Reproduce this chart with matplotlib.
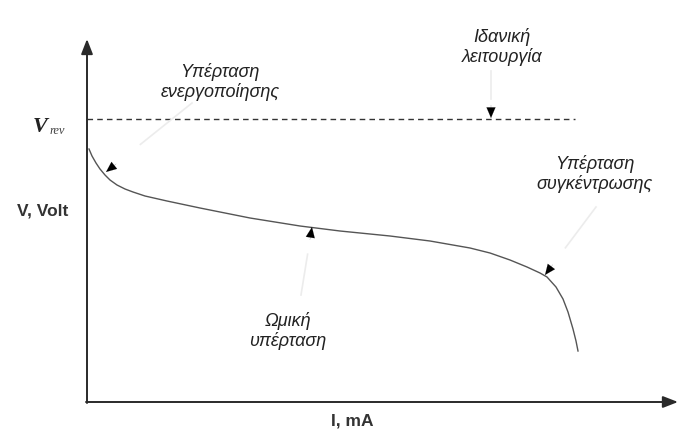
import matplotlib.pyplot as plt
import numpy as np

# polarization curve (x: current, y: pixel row, top = 0)
curve_i = [89, 92, 96, 100, 105, 110, 117, 125, 133, 145, 167, 200, 250, 300, 340, 390, 430, 470, 490, 510, 527, 540, 547, 556, 563, 568, 573, 576, 578]
curve_v = [150, 157, 164, 170, 176, 181, 186, 190, 193, 197, 202, 209, 219, 227, 232, 237, 242, 249, 254, 261, 268, 274, 278, 288, 300, 313, 330, 342, 352]
v_rev = 120
i_end_rev = 575

labels = ['Υπέρταση\nενεργοποίησης', 'Ιδανική\nλειτουργία', 'Υπέρταση\nσυγκέντρωσης', 'Ωμική\nυπέρταση']
label_pos = [(220, 82), (502, 47), (595, 174), (288, 331)]
arrow_tip = [(106, 173), (491, 119), (545, 276), (312, 228)]
leader_start = [(192, 104), (491, 72), (596, 208), (301, 296)]

fig = plt.figure(figsize=(6.78, 4.31), dpi=100)
ax = fig.add_axes([0, 0, 1, 1])
ax.set_xlim(0, 678)
ax.set_ylim(431, 0)
ax.axis('off')

x0, y0 = 87, 403
axis_col = '#2a2a2a'
# axes with arrow heads
ax.annotate('', xy=(x0, 40), xytext=(x0, y0 + 1),
            arrowprops=dict(arrowstyle='-|>,head_length=0.9,head_width=0.35', color=axis_col, lw=1.4, shrinkA=0, shrinkB=0))
ax.annotate('', xy=(678, y0), xytext=(x0 - 1, y0),
            arrowprops=dict(arrowstyle='-|>,head_length=0.9,head_width=0.35', color=axis_col, lw=1.4, shrinkA=0, shrinkB=0))

# ideal voltage
ax.plot([x0, i_end_rev], [v_rev, v_rev], color='#333333', lw=1.0, ls=(0, (4, 3)))
# real curve
ax.plot(curve_i, curve_v, color='#555555', lw=1.0)

for txt, (tx, ty), tip, st in zip(labels, label_pos, arrow_tip, leader_start):
    ax.text(tx, ty, txt, ha='center', va='center', style='italic', fontsize=13,
            family='Liberation Sans', color='#222222', linespacing=1.2)
    d = np.array(tip, float) - np.array(st, float)
    L = np.hypot(*d)
    d = d / L
    # faint leader, fading out before the head like in the scan
    ax.plot([st[0], st[0] + d[0] * L * 0.6], [st[1], st[1] + d[1] * L * 0.6], color='#ececec', lw=1.2)
    ax.annotate('', xy=tip, xytext=(tip[0] - d[0] * 13, tip[1] - d[1] * 13),
                arrowprops=dict(arrowstyle='-|>,head_length=0.75,head_width=0.32', color='black', lw=0.1, shrinkA=0, shrinkB=0))

ax.text(40, 132, 'V', style='italic', weight='bold', family='Liberation Serif', fontsize=16, ha='center', va='baseline', color='#222222')
ax.text(50, 134, 'rev', style='italic', family='Liberation Serif', fontsize=9, ha='left', va='baseline', color='#444444')
ax.text(43, 211, 'V, Volt', weight='bold', family='Liberation Sans', fontsize=12.5, ha='center', va='center', color='#333333')
ax.text(352, 421, 'I, mA', weight='bold', family='Liberation Sans', fontsize=12.5, ha='center', va='center', color='#333333')

fig.savefig('out.png', dpi=100, facecolor='white')
